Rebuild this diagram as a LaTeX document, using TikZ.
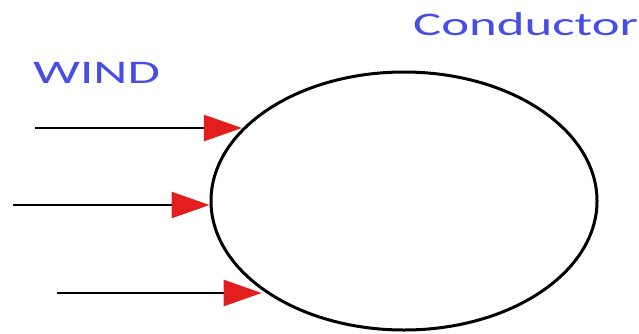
\documentclass[tikz,border=0pt]{standalone}
\usepackage{fontspec}
\setmainfont{Carlito}
\usetikzlibrary{arrows.meta,shapes.geometric}
\definecolor{lblblue}{RGB}{70,78,228}
\definecolor{tipred}{RGB}{226,30,30}
\tikzset{
  lbl/.style={text=lblblue, font=\fontsize{33}{40}\selectfont, inner sep=0pt, anchor=base west},
  conductor/.style={draw=black, ellipse, line width=3pt, minimum width=386pt, minimum height=258pt, inner sep=0pt},
  windarrow/.style={draw=black, line width=2.6pt, -{Triangle[length=38pt,width=26pt,color=tipred,fill=tipred]}}
}
\begin{document}
\begin{tikzpicture}[x=1pt,y=-1pt]
\useasboundingbox (0,0) rectangle (639,333);
\clip (0,0) rectangle (639,333);
\node[conductor] (cond) at (404,201) {};
\coordinate (s1) at (35,128);
\coordinate (s2) at (13,205);
\coordinate (s3) at (57,293);
\draw[windarrow] (s1) -- (cond.156 |- s1);
\draw[windarrow] (s2) -- (cond.181 |- s2);
\draw[windarrow] (s3) -- (cond.212 |- s3);
\node[lbl] (wind) at (33,83) {\scalebox{1.6}[1]{WIND}};
\node[lbl] (condlbl) at (413,35) {\scalebox{1.6}[1]{Conductor}};
\end{tikzpicture}
\end{document}
